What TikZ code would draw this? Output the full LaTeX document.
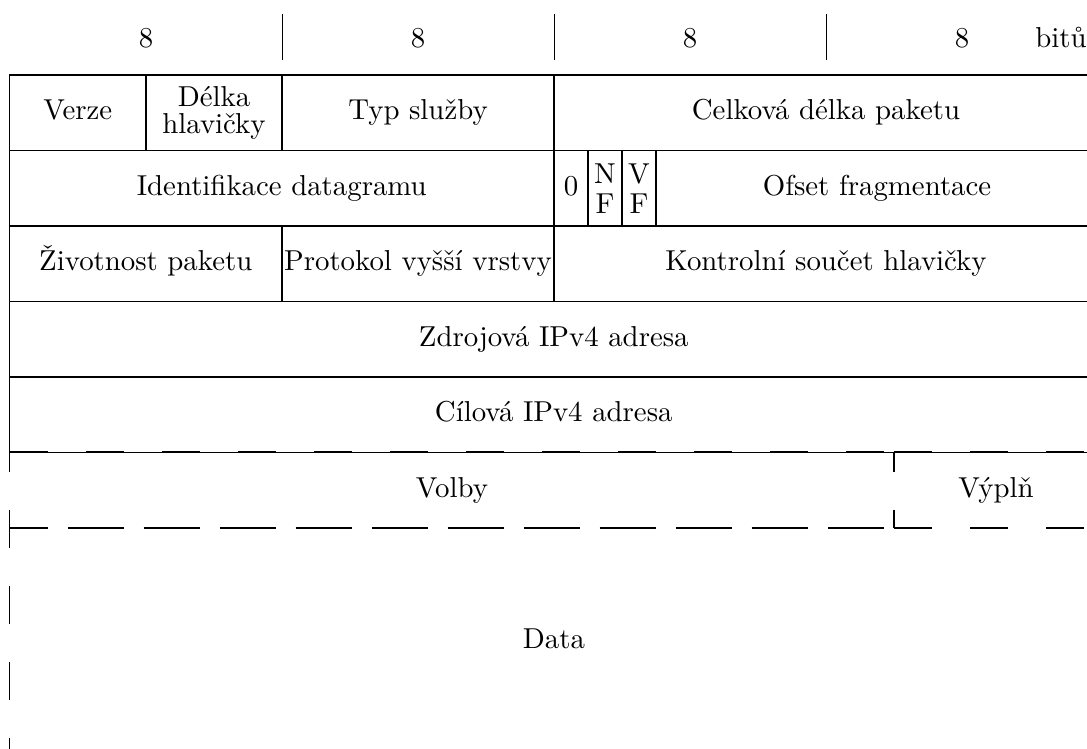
\documentclass[tikz,border=0pt]{standalone}
\begin{document}
\newcommand\fld[7][lbl]{\draw (#2,#3) rectangle (#4,#5); \node[#1] (#6) at ({(#2+#4)/2},{(#3+#5)/2}) {#7};}
\begin{tikzpicture}[x=0.347pt,y=-0.347pt, line width=0.4pt,
  lbl/.style={inner sep=0pt, text height=6.9pt, text depth=1.9pt},
  ml/.style={inner sep=0pt, align=center},
  dsh/.style={dash pattern=on 13.19pt off 13.19pt}]
\useasboundingbox (0,0) rectangle (1087,749);
\clip (0,0) rectangle (1087,749);
% header
\node[lbl] (h1) at (146,40) {8};
\node[lbl] (h2) at (418,40) {8};
\node[lbl] (h3) at (690,40) {8};
\node[lbl] (h4) at (962,40) {8};
\node[lbl] (bits) at (1061,40) {bitů};
\coordinate (s1t) at (282,14); \coordinate (s1b) at (282,60);
\coordinate (s2t) at (554,14); \coordinate (s2b) at (554,60);
\coordinate (s3t) at (826,14); \coordinate (s3b) at (826,60);
\draw[line width=0.3pt] (s1t) -- (s1b); \draw[line width=0.3pt] (s2t) -- (s2b); \draw[line width=0.3pt] (s3t) -- (s3b);
% row 1
\fld{9.5}{75}{146}{150.5}{verze}{Verze}
\fld[ml]{146}{75}{282}{150.5}{delka}{Délka\\[-2.7pt]hlavičky}
\fld{282}{75}{554}{150.5}{typ}{Typ služby}
\fld{554}{75}{1098}{150.5}{celk}{Celková délka paketu}
% row 2
\fld{9.5}{150.5}{554}{226}{ident}{Identifikace datagramu}
\fld{554}{150.5}{588}{226}{nula}{0}
\fld[ml]{588}{150.5}{622}{226}{nf}{N\\[-1.6pt]F}
\fld[ml]{622}{150.5}{656}{226}{vf}{V\\[-1.6pt]F}
\fld{656}{150.5}{1098}{226}{ofset}{Ofset fragmentace}
% row 3
\fld{9.5}{226}{282}{301.5}{ttl}{Životnost paketu}
\fld{282}{226}{554}{301.5}{prot}{Protokol vyšší vrstvy}
\fld{554}{226}{1098}{301.5}{ksum}{Kontrolní součet hlavičky}
% rows 4, 5
\fld{9.5}{301.5}{1098}{377}{zdroj}{Zdrojová IPv4 adresa}
\fld{9.5}{377}{1098}{452.5}{cil}{Cílová IPv4 adresa}
% options row (dashed)
\draw[dsh] (9.5,451.5) -- (894,451.5);
\draw[dsh] (894,451.5) -- (1098,451.5);
\draw[dsh, dash phase=6.59pt] (9.5,452.5) -- (9.5,770);
\draw[dsh, dash phase=6.59pt] (894,452.5) -- (894,528);
\draw[dsh] (9.5,528) -- (894,528);
\draw[dsh, dash phase=6.25pt] (9.5,528) -- (894,528);
\draw[dsh] (894,528) -- (1098,528);
\node[lbl] (volby) at (452,490) {Volby};
\node[lbl] (vypln) at (996,490) {Výplň};
% data
\node[lbl] (data) at (554,641) {Data};
\end{tikzpicture}
\end{document}
